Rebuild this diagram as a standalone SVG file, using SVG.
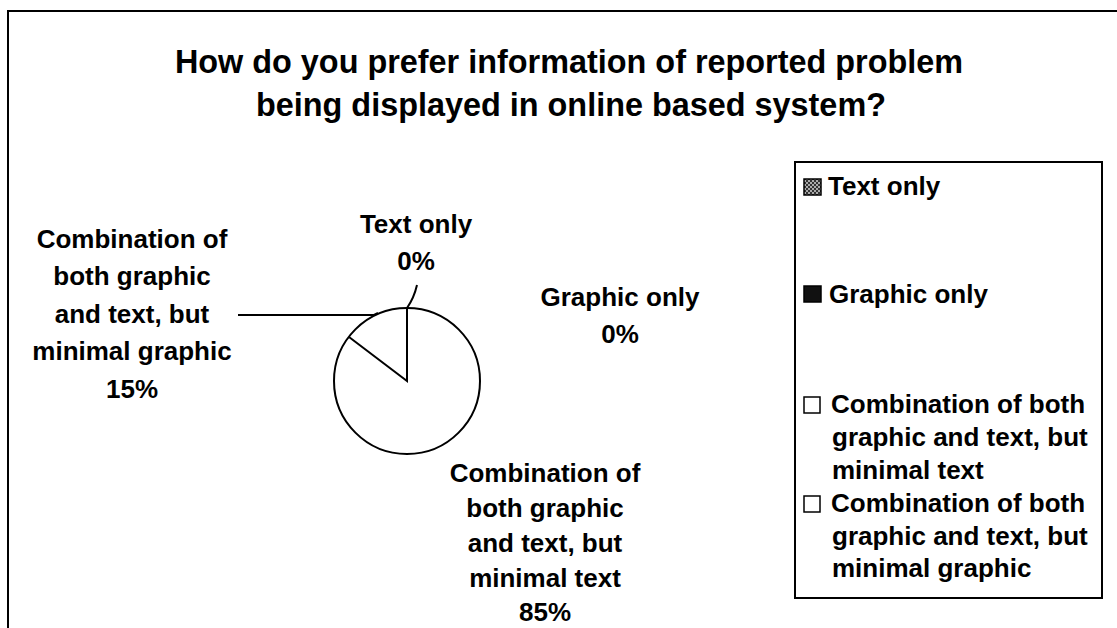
<svg xmlns="http://www.w3.org/2000/svg" width="1117" height="628" viewBox="0 0 1117 628">
<style>
text{font-family:"Liberation Sans",Arial,sans-serif;font-weight:bold;fill:#000}
.t{font-size:32.4px;text-anchor:middle}
.l{font-size:26px;text-anchor:middle}
.g{font-size:26px}
.ln{fill:none;stroke:#000;stroke-width:2}
</style>
<defs>
<pattern id="chk" width="4" height="4" patternUnits="userSpaceOnUse">
<rect width="4" height="4" fill="#333"/>
<rect width="2" height="2" fill="#aaa"/>
<rect x="2" y="2" width="2" height="2" fill="#aaa"/>
</pattern>
</defs>
<rect width="1117" height="628" fill="#fff"/>
<path class="ln" d="M8,628 V11 H1117" stroke-width="1.5"/>
<g id="title">
<text class="t" x="569" y="73">How do you prefer information of reported problem</text>
<text class="t" x="571" y="116">being displayed in online based system?</text>
</g>
<g id="pie">
<circle cx="407" cy="381" r="73" class="ln"/>
<path class="ln" d="M349,337 L407,381 V308"/>
</g>
<g id="connectors">
<path class="ln" d="M238,315 H374 L378,313"/>
<path class="ln" d="M417,285 Q414,298 407,308"/>
</g>
<g id="label-textonly">
<text class="l" x="416" y="233">Text only</text>
<text class="l" x="416" y="270">0%</text>
</g>
<g id="label-graphiconly">
<text class="l" x="620" y="306">Graphic only</text>
<text class="l" x="620" y="343">0%</text>
</g>
<g id="label-mingraphic">
<text class="l" x="132" y="247.5">Combination of</text>
<text class="l" x="132" y="285">both graphic</text>
<text class="l" x="132" y="322.5">and text, but</text>
<text class="l" x="132" y="360">minimal graphic</text>
<text class="l" x="132" y="397.5">15%</text>
</g>
<g id="label-mintext">
<text class="l" x="545" y="482">Combination of</text>
<text class="l" x="545" y="517">both graphic</text>
<text class="l" x="545" y="552">and text, but</text>
<text class="l" x="545" y="587">minimal text</text>
<text class="l" x="545" y="621">85%</text>
</g>
<g id="legend">
<rect x="795" y="162" width="307" height="436" fill="#fff" stroke="#000" stroke-width="2"/>
<rect x="804" y="179" width="17" height="16" fill="url(#chk)" stroke="#000" stroke-width="1.5"/>
<text class="g" x="828" y="195">Text only</text>
<rect x="804" y="286" width="17" height="16" fill="#111" stroke="#000" stroke-width="1.5"/>
<text class="g" x="829" y="303">Graphic only</text>
<rect x="804" y="397" width="16" height="16" fill="#fff" stroke="#000" stroke-width="1.5"/>
<text class="g" x="831" y="413">Combination of both</text>
<text class="g" x="832" y="446">graphic and text, but</text>
<text class="g" x="832" y="479">minimal text</text>
<rect x="804" y="496" width="16" height="16" fill="#fff" stroke="#000" stroke-width="1.5"/>
<text class="g" x="831" y="512">Combination of both</text>
<text class="g" x="832" y="544.5">graphic and text, but</text>
<text class="g" x="832" y="577">minimal graphic</text>
</g>
</svg>
